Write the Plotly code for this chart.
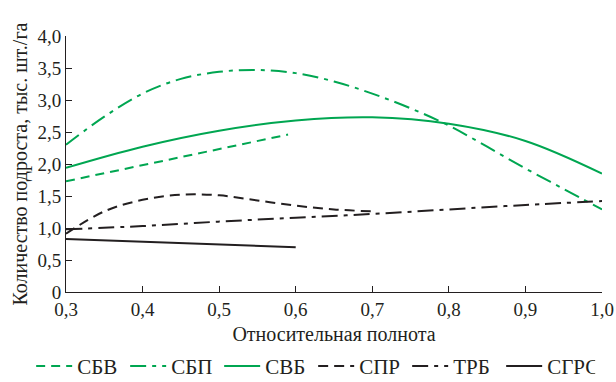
import plotly.graph_objects as go

# Относительная полнота (x) и количество подроста (тыс. шт./га)
sbv_x = [0.30, 0.40, 0.50, 0.59]
sbv_y = [1.73, 1.98, 2.23, 2.46]

sbp_x = [0.30, 0.35, 0.40, 0.45, 0.50, 0.55, 0.60, 0.65, 0.70, 0.75, 0.80, 0.85, 0.90, 0.95, 1.00]
sbp_y = [2.30, 2.74, 3.10, 3.33, 3.44, 3.47, 3.42, 3.29, 3.10, 2.87, 2.60, 2.27, 1.93, 1.61, 1.29]

svb_x = [0.30, 0.40, 0.50, 0.60, 0.70, 0.80, 0.90, 1.00]
svb_y = [1.94, 2.27, 2.52, 2.68, 2.73, 2.63, 2.36, 1.85]

spr_x = [0.30, 0.35, 0.40, 0.45, 0.50, 0.55, 0.60, 0.65, 0.70]
spr_y = [0.91, 1.26, 1.44, 1.52, 1.51, 1.43, 1.35, 1.29, 1.26]

trb_x = [0.30, 0.40, 0.50, 0.60, 0.70, 0.80, 0.90, 1.00]
trb_y = [0.98, 1.03, 1.10, 1.16, 1.22, 1.29, 1.36, 1.42]

sgrs_x = [0.30, 0.40, 0.50, 0.60]
sgrs_y = [0.83, 0.79, 0.74, 0.70]

x_ticks = [0.3, 0.4, 0.5, 0.6, 0.7, 0.8, 0.9, 1.0]
x_labels = ["0,3", "0,4", "0,5", "0,6", "0,7", "0,8", "0,9", "1,0"]
y_ticks = [0, 0.5, 1.0, 1.5, 2.0, 2.5, 3.0, 3.5, 4.0]
y_labels = ["0", "0,5", "1,0", "1,5", "2,0", "2,5", "3,0", "3,5", "4,0"]

GREEN = "#00a651"
BLACK = "#231f20"
FONT = "Liberation Serif, Tinos, Times New Roman, serif"

series = [
    ("СБВ", sbv_x, sbv_y, GREEN, "9px,6px", "linear"),
    ("СБП", sbp_x, sbp_y, GREEN, "16px,6px,4px,6px", "spline"),
    ("СВБ", svb_x, svb_y, GREEN, "solid", "spline"),
    ("СПР", spr_x, spr_y, BLACK, "10px,6px", "spline"),
    ("ТРБ", trb_x, trb_y, BLACK, "16px,6px,4px,6px", "spline"),
    ("СГРС", sgrs_x, sgrs_y, BLACK, "solid", "linear"),
]

fig = go.Figure()
for name, xs, ys, color, dash, shape in series:
    fig.add_trace(go.Scatter(
        x=xs, y=ys, name=name, mode="lines",
        line=dict(color=color, width=2, dash=dash, shape=shape, smoothing=1.0),
    ))

fig.update_layout(
    width=616, height=382,
    margin=dict(l=66, r=14, t=36, b=90, autoexpand=False),
    paper_bgcolor="white", plot_bgcolor="white",
    font=dict(family=FONT, size=19, color=BLACK),
    showlegend=True,
    legend=dict(
        orientation="h", x=-0.065, xanchor="left", y=-0.29, yanchor="middle",
        font=dict(family=FONT, size=21, color=BLACK),
        itemwidth=36, tracegroupgap=0,
        entrywidth=43, entrywidthmode="pixels",
        bgcolor="rgba(0,0,0,0)",
    ),
    xaxis=dict(
        range=[0.3, 1.0], tickvals=x_ticks, ticktext=x_labels,
        showgrid=False, zeroline=False, showline=True, linecolor=BLACK, linewidth=1,
        ticks="inside", ticklen=6, tickcolor=BLACK, automargin=False,
        tickfont=dict(family=FONT, size=19),
        title=dict(text="Относительная полнота", font=dict(family=FONT, size=20), standoff=8),
    ),
    yaxis=dict(
        range=[0, 4.0], tickvals=y_ticks, ticktext=y_labels,
        showgrid=False, zeroline=False, showline=True, linecolor=BLACK, linewidth=1,
        ticks="inside", ticklen=6, tickcolor=BLACK, automargin=False,
        tickfont=dict(family=FONT, size=19),
        title=dict(text="Количество подроста, тыс. шт./га", font=dict(family=FONT, size=20), standoff=4),
    ),
)

fig.write_html("out.html")
